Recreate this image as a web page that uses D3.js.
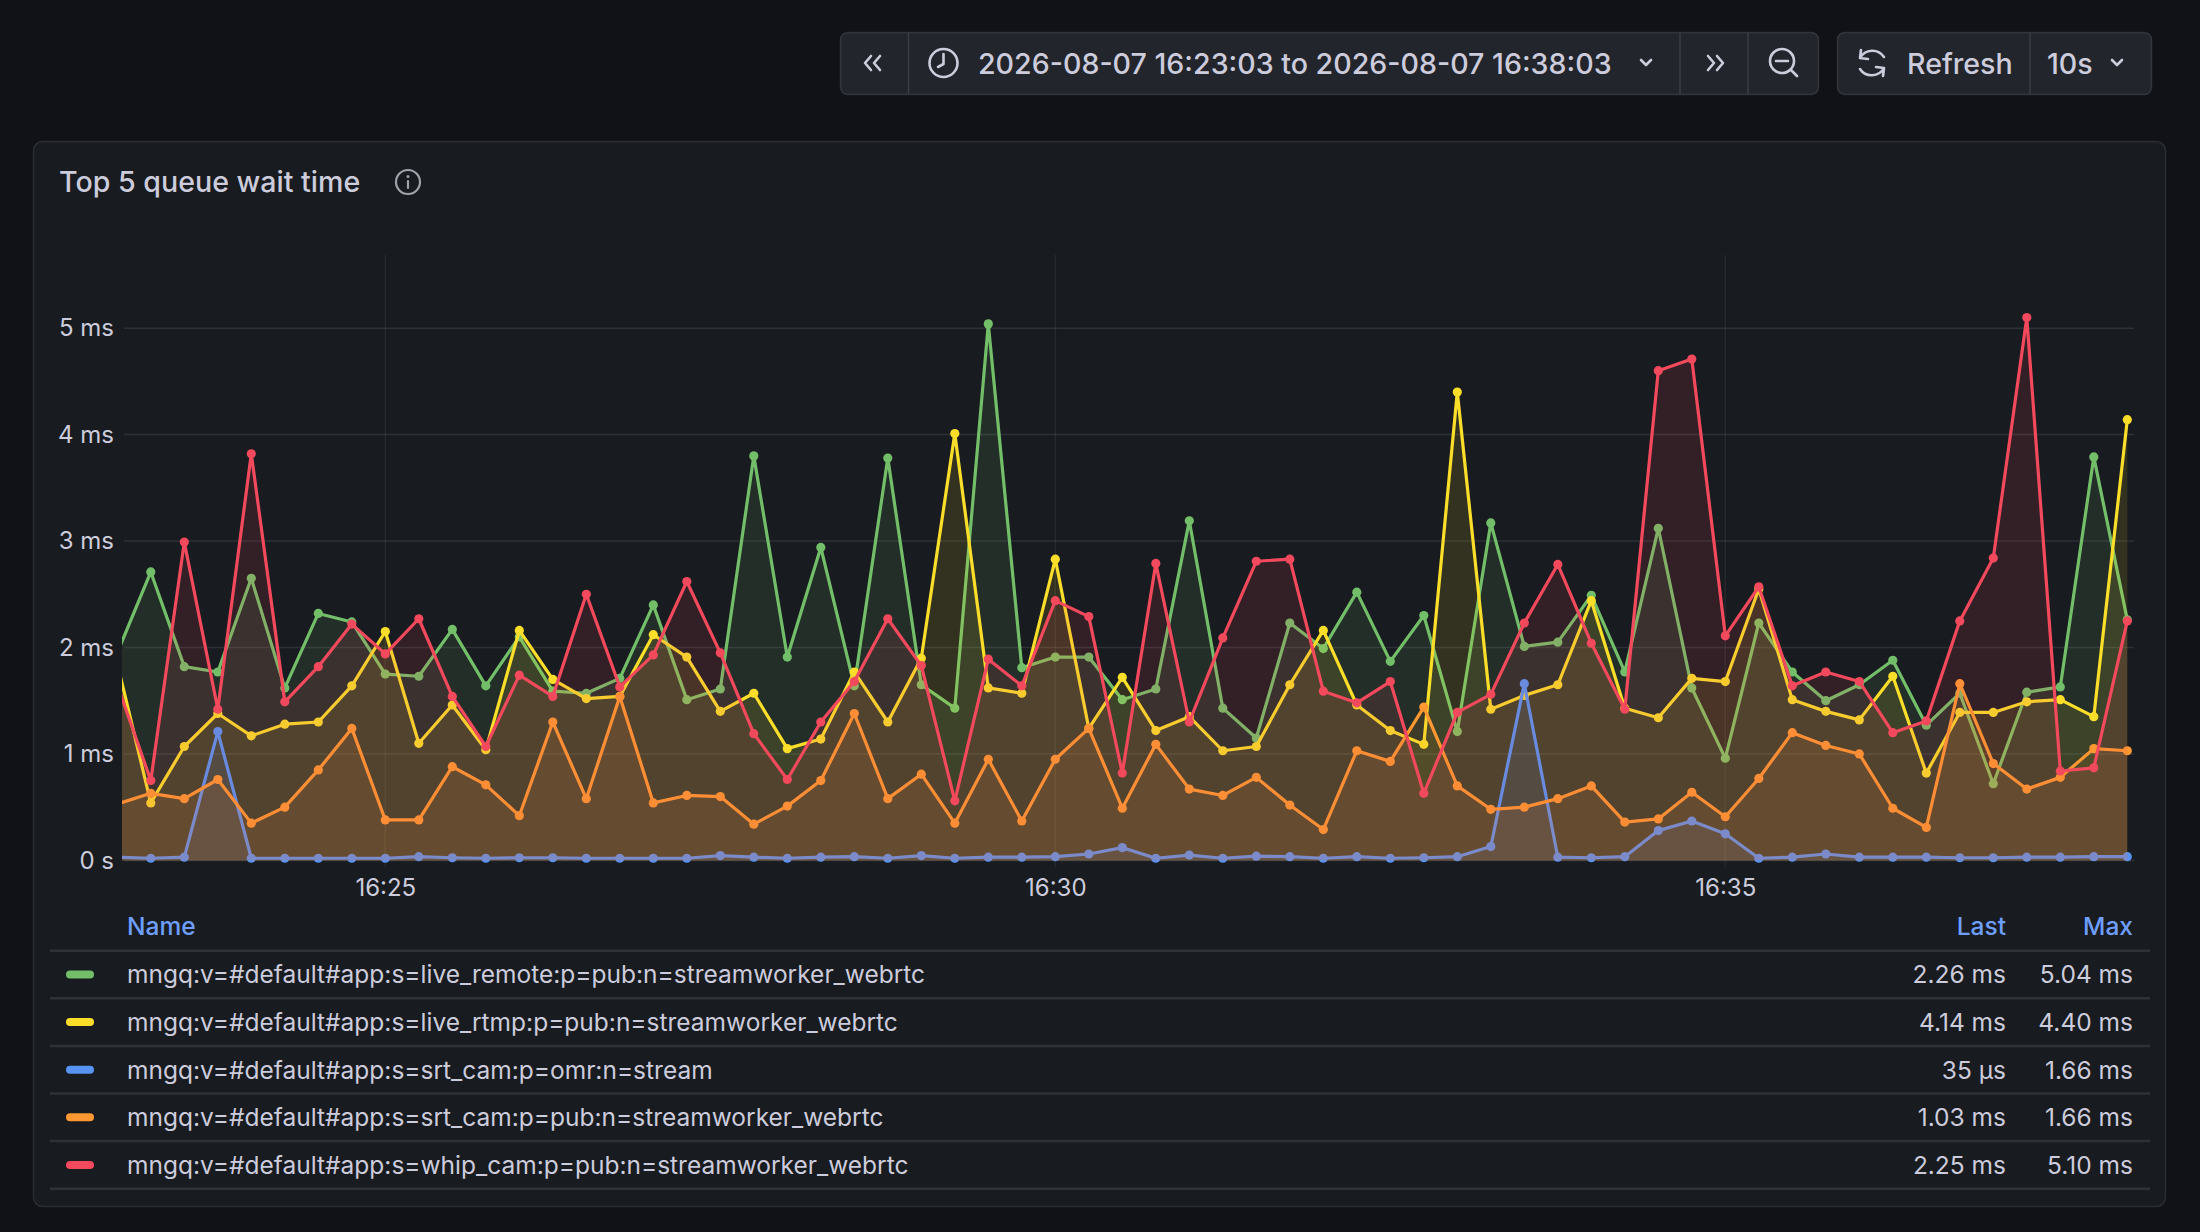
<!DOCTYPE html>
<html>
<head>
<meta charset="utf-8">
<script src="https://cdn.jsdelivr.net/npm/d3@7"></script>
<style>
  html, body { margin: 0; padding: 0; background: #111217; }
  svg { display: block; font-family: Inter, "Noto Sans", sans-serif; }
</style>
</head>
<body>
<div id="chart"></div>
<script>
var width = 2200;
var height = 1232;

// sample times, one every 15 s
var times = [
  '16:23:00', '16:23:15', '16:23:30', '16:23:45', '16:24:00', '16:24:15', '16:24:30', '16:24:45',
  '16:25:00', '16:25:15', '16:25:30', '16:25:45', '16:26:00', '16:26:15', '16:26:30', '16:26:45',
  '16:27:00', '16:27:15', '16:27:30', '16:27:45', '16:28:00', '16:28:15', '16:28:30', '16:28:45',
  '16:29:00', '16:29:15', '16:29:30', '16:29:45', '16:30:00', '16:30:15', '16:30:30', '16:30:45',
  '16:31:00', '16:31:15', '16:31:30', '16:31:45', '16:32:00', '16:32:15', '16:32:30', '16:32:45',
  '16:33:00', '16:33:15', '16:33:30', '16:33:45', '16:34:00', '16:34:15', '16:34:30', '16:34:45',
  '16:35:00', '16:35:15', '16:35:30', '16:35:45', '16:36:00', '16:36:15', '16:36:30', '16:36:45',
  '16:37:00', '16:37:15', '16:37:30', '16:37:45', '16:38:00'
];

// values in ms
var liveRemote = [
  1.95, 2.71, 1.82, 1.77, 2.65, 1.62, 2.32, 2.24, 1.75, 1.73, 2.17, 1.64, 2.10, 1.59, 1.57, 1.71,
  2.40, 1.51, 1.61, 3.80, 1.91, 2.94, 1.64, 3.78, 1.65, 1.43, 5.04, 1.81, 1.91, 1.91, 1.51, 1.61,
  3.19, 1.43, 1.15, 2.23, 1.99, 2.52, 1.87, 2.30, 1.21, 3.17, 2.01, 2.05, 2.49, 1.77, 3.12, 1.62,
  0.96, 2.23, 1.77, 1.50, 1.65, 1.88, 1.27, 1.57, 0.72, 1.58, 1.63, 3.79, 2.26
];
var liveRtmp = [
  1.85, 0.54, 1.07, 1.38, 1.17, 1.28, 1.30, 1.64, 2.15, 1.10, 1.46, 1.04, 2.16, 1.70, 1.52, 1.54,
  2.12, 1.91, 1.40, 1.57, 1.05, 1.14, 1.77, 1.30, 1.90, 4.01, 1.62, 1.57, 2.83, 1.24, 1.72, 1.22,
  1.35, 1.03, 1.07, 1.65, 2.16, 1.46, 1.22, 1.09, 4.40, 1.42, 1.55, 1.65, 2.44, 1.43, 1.34, 1.71,
  1.68, 2.55, 1.51, 1.40, 1.32, 1.73, 0.82, 1.39, 1.39, 1.49, 1.51, 1.35, 4.14
];
var srtCamOmr = [
  0.03, 0.02, 0.03, 1.21, 0.02, 0.02, 0.02, 0.02, 0.02, 0.035, 0.025, 0.02, 0.025, 0.025, 0.02, 0.02,
  0.02, 0.02, 0.045, 0.03, 0.02, 0.03, 0.035, 0.02, 0.045, 0.02, 0.03, 0.03, 0.035, 0.06, 0.12, 0.02,
  0.05, 0.02, 0.04, 0.035, 0.02, 0.035, 0.02, 0.025, 0.035, 0.13, 1.66, 0.03, 0.025, 0.035, 0.28, 0.37,
  0.25, 0.02, 0.03, 0.06, 0.03, 0.03, 0.03, 0.025, 0.025, 0.03, 0.03, 0.035, 0.035
];
var srtCamPub = [
  0.53, 0.63, 0.58, 0.76, 0.35, 0.50, 0.85, 1.24, 0.38, 0.38, 0.88, 0.71, 0.42, 1.30, 0.58, 1.54,
  0.54, 0.61, 0.60, 0.34, 0.51, 0.75, 1.38, 0.58, 0.81, 0.35, 0.95, 0.37, 0.95, 1.24, 0.49, 1.09,
  0.67, 0.61, 0.78, 0.52, 0.29, 1.03, 0.93, 1.44, 0.70, 0.48, 0.50, 0.58, 0.70, 0.36, 0.39, 0.64,
  0.41, 0.77, 1.20, 1.08, 1.00, 0.49, 0.31, 1.66, 0.91, 0.67, 0.78, 1.05, 1.03
];
var whipCam = [
  1.65, 0.75, 2.99, 1.42, 3.82, 1.49, 1.82, 2.22, 1.94, 2.27, 1.54, 1.07, 1.74, 1.54, 2.50, 1.63,
  1.93, 2.62, 1.95, 1.19, 0.76, 1.30, 1.68, 2.27, 1.83, 0.56, 1.89, 1.64, 2.44, 2.29, 0.82, 2.79,
  1.30, 2.09, 2.81, 2.83, 1.59, 1.48, 1.68, 0.63, 1.39, 1.56, 2.23, 2.78, 2.04, 1.42, 4.60, 4.71,
  2.11, 2.57, 1.64, 1.77, 1.68, 1.20, 1.31, 2.25, 2.84, 5.10, 0.84, 0.87, 2.25
];

var seriesNames = [
  'mngq:v=#default#app:s=live_remote:p=pub:n=streamworker_webrtc',
  'mngq:v=#default#app:s=live_rtmp:p=pub:n=streamworker_webrtc',
  'mngq:v=#default#app:s=srt_cam:p=omr:n=stream',
  'mngq:v=#default#app:s=srt_cam:p=pub:n=streamworker_webrtc',
  'mngq:v=#default#app:s=whip_cam:p=pub:n=streamworker_webrtc'
];
var seriesValues = [liveRemote, liveRtmp, srtCamOmr, srtCamPub, whipCam];
var seriesColors = ['#73BF69', '#FADE2A', '#5794F2', '#FF9830', '#F2495C'];

var yTicks = [0, 1, 2, 3, 4, 5];
var yTickLabels = ['0 s', '1 ms', '2 ms', '3 ms', '4 ms', '5 ms'];
var xTicks = ['16:25:00', '16:30:00', '16:35:00'];
var xTickLabels = ['16:25', '16:30', '16:35'];
var rangeFrom = '16:23:03';
var rangeTo = '16:38:03';
var timeRangeText = '2026-08-07 16:23:03 to 2026-08-07 16:38:03';
var panelTitle = 'Top 5 queue wait time';

var textColor = '#ccccdc';
var borderColor = 'rgba(204,204,220,0.13)';

var parse = d3.timeParse('%H:%M:%S');

var plot = { left: 124, right: 2134, top: 255, bottom: 860.4 };

var x = d3.scaleTime()
  .domain([parse(rangeFrom), parse(rangeTo)])
  .range([plot.left, plot.right]);

var y = d3.scaleLinear()
  .domain([0, 5.687])
  .range([plot.bottom, plot.top]);

var svg = d3.select('#chart')
  .append('svg')
  .attr('width', width)
  .attr('height', height);

svg.append('rect')
  .attr('width', width)
  .attr('height', height)
  .attr('fill', '#111217');

// ---- toolbar ----
var bar = svg.append('g');

function buttonGroup(x0, x1, dividers) {
  bar.append('rect')
    .attr('x', x0 + 0.5).attr('y', 32.5)
    .attr('width', x1 - x0).attr('height', 62)
    .attr('rx', 7)
    .attr('fill', '#22252b')
    .attr('stroke', 'rgba(204,204,220,0.15)')
    .attr('stroke-width', 1.5);
  dividers.forEach(function(d) {
    bar.append('line')
      .attr('x1', d).attr('x2', d)
      .attr('y1', 33).attr('y2', 94)
      .attr('stroke', 'rgba(204,204,220,0.15)')
      .attr('stroke-width', 1.5);
  });
}

buttonGroup(840, 1818, [908.5, 1680, 1748]);
buttonGroup(1837, 2151, [2030]);

var iconStroke = function(sel) {
  return sel.attr('fill', 'none')
    .attr('stroke', textColor)
    .attr('stroke-width', 2.6)
    .attr('stroke-linecap', 'round')
    .attr('stroke-linejoin', 'round');
};

// << and >>
iconStroke(bar.append('path')
  .attr('d', 'M871,56 L865,63 L871,70 M880,56 L874,63 L880,70'));
iconStroke(bar.append('path')
  .attr('d', 'M1708,56 L1714,63 L1708,70 M1717,56 L1723,63 L1717,70'));

// clock
iconStroke(bar.append('circle').attr('cx', 943.5).attr('cy', 63).attr('r', 14));
iconStroke(bar.append('path').attr('d', 'M943.5,54 L943.5,64 L938,67'));

bar.append('text')
  .attr('x', 978)
  .attr('y', 64)
  .attr('dy', '0.36em')
  .attr('fill', textColor)
  .attr('font-size', 28.6)
  .attr('font-weight', 500)
  .text(timeRangeText);

// chevrons down
iconStroke(bar.append('path').attr('d', 'M1641,60 L1646,65 L1651,60'));
iconStroke(bar.append('path').attr('d', 'M2112,60 L2117,65 L2122,60'));

// zoom out
iconStroke(bar.append('circle').attr('cx', 1782).attr('cy', 61).attr('r', 12));
iconStroke(bar.append('path').attr('d', 'M1776,61 L1788,61 M1791,70 L1797,76'));

// refresh
iconStroke(bar.append('path')
  .attr('d', 'M1884,57 A14,14 0 0 0 1860,58 M1860,69 A14,14 0 0 0 1884,68 M1861,50 L1860,58 L1868,59 M1883,76 L1884,68 L1876,67'));

bar.append('text')
  .attr('x', 1907)
  .attr('y', 64)
  .attr('dy', '0.36em')
  .attr('fill', textColor)
  .attr('font-size', 28.6)
  .attr('font-weight', 500)
  .text('Refresh');

bar.append('text')
  .attr('x', 2047)
  .attr('y', 64)
  .attr('dy', '0.36em')
  .attr('fill', textColor)
  .attr('font-size', 28.6)
  .attr('font-weight', 500)
  .text('10s');

// ---- panel ----
svg.append('rect')
  .attr('x', 33.5).attr('y', 141.5)
  .attr('width', 2132).attr('height', 1065)
  .attr('rx', 9)
  .attr('fill', '#181b1f')
  .attr('stroke', borderColor)
  .attr('stroke-width', 1.5);

svg.append('text')
  .attr('x', 59)
  .attr('y', 182)
  .attr('dy', '0.36em')
  .attr('fill', textColor)
  .attr('font-size', 28.6)
  .attr('font-weight', 500)
  .text(panelTitle);

var info = svg.append('g').attr('transform', 'translate(408,182)');
info.append('circle').attr('r', 12)
  .attr('fill', 'none').attr('stroke', '#a0a2ab').attr('stroke-width', 2.2);
info.append('line').attr('x1', 0).attr('x2', 0).attr('y1', -1).attr('y2', 6)
  .attr('stroke', '#a0a2ab').attr('stroke-width', 2.2).attr('stroke-linecap', 'round');
info.append('circle').attr('cy', -5.5).attr('r', 1.5).attr('fill', '#a0a2ab');

// ---- grid ----
var grid = svg.append('g');
grid.selectAll('line.h')
  .data(yTicks)
  .enter().append('line')
  .attr('x1', plot.left).attr('x2', plot.right)
  .attr('y1', function(d) { return y(d); })
  .attr('y2', function(d) { return y(d); })
  .attr('stroke', 'rgba(204,204,220,0.12)')
  .attr('stroke-width', 1.5);

grid.selectAll('line.v')
  .data(xTicks)
  .enter().append('line')
  .attr('x1', function(d) { return x(parse(d)); })
  .attr('x2', function(d) { return x(parse(d)); })
  .attr('y1', plot.top).attr('y2', 867)
  .attr('stroke', 'rgba(204,204,220,0.08)')
  .attr('stroke-width', 1.5);

var yAxis = d3.axisLeft(y)
  .tickValues(yTicks)
  .tickSize(0)
  .tickPadding(10)
  .tickFormat(function(d, i) { return yTickLabels[i]; });

svg.append('g')
  .attr('transform', 'translate(' + plot.left + ',0)')
  .call(yAxis)
  .call(function(g) {
    g.select('.domain').remove();
    g.selectAll('text')
      .attr('fill', textColor)
      .attr('font-size', 24)
      .attr('font-family', 'Inter, sans-serif');
  });

var xAxis = d3.axisBottom(x)
  .tickValues(xTicks.map(parse))
  .tickSize(0)
  .tickPadding(19)
  .tickFormat(function(d, i) { return xTickLabels[i]; });

svg.append('g')
  .attr('transform', 'translate(0,' + plot.bottom + ')')
  .call(xAxis)
  .call(function(g) {
    g.select('.domain').remove();
    g.selectAll('text')
      .attr('fill', textColor)
      .attr('font-size', 24)
      .attr('font-family', 'Inter, sans-serif');
  });

// ---- series ----
svg.append('clipPath')
  .attr('id', 'plotClip')
  .append('rect')
  .attr('x', plot.left - 2).attr('y', plot.top - 20)
  .attr('width', plot.right - plot.left + 8)
  .attr('height', plot.bottom - plot.top + 30);

var plotArea = svg.append('g').attr('clip-path', 'url(#plotClip)');

var area = d3.area()
  .x(function(d, i) { return x(parse(times[i])); })
  .y0(y(0))
  .y1(function(d) { return y(d); });

var line = d3.line()
  .x(function(d, i) { return x(parse(times[i])); })
  .y(function(d) { return y(d); });

seriesValues.forEach(function(values, s) {
  var g = plotArea.append('g');
  g.append('path')
    .attr('d', area(values))
    .attr('fill', seriesColors[s])
    .attr('fill-opacity', 0.12);
  g.append('path')
    .attr('d', line(values))
    .attr('fill', 'none')
    .attr('stroke', seriesColors[s])
    .attr('stroke-width', 3.2)
    .attr('stroke-linejoin', 'round');
  g.selectAll('circle')
    .data(values)
    .enter().append('circle')
    .attr('cx', function(d, i) { return x(parse(times[i])); })
    .attr('cy', function(d) { return y(d); })
    .attr('r', 4.6)
    .attr('fill', seriesColors[s]);
});

// ---- legend table ----
function fmt(v) {
  if (v < 1) {
    return Math.round(v * 1000) + ' \u00b5s';
  }
  return v.toFixed(2) + ' ms';
}

var legend = svg.append('g');
var headerY = 926;
var rowY0 = 974.5;
var rowH = 47.6;
var headerColor = '#6E9FFF';
var legendFont = 24.5;

legend.append('text').attr('x', 127).attr('y', headerY).attr('dy', '0.36em')
  .attr('fill', headerColor).attr('font-size', legendFont).attr('font-weight', 500).text('Name');
legend.append('text').attr('x', 2006).attr('y', headerY).attr('dy', '0.36em')
  .attr('text-anchor', 'end')
  .attr('fill', headerColor).attr('font-size', legendFont).attr('font-weight', 500).text('Last');
legend.append('text').attr('x', 2133).attr('y', headerY).attr('dy', '0.36em')
  .attr('text-anchor', 'end')
  .attr('fill', headerColor).attr('font-size', legendFont).attr('font-weight', 500).text('Max');

legend.append('line')
  .attr('x1', 50).attr('x2', 2150)
  .attr('y1', rowY0 - rowH / 2).attr('y2', rowY0 - rowH / 2)
  .attr('stroke', borderColor).attr('stroke-width', 2.5);

var rows = legend.selectAll('g.row')
  .data(seriesNames)
  .enter().append('g')
  .attr('transform', function(d, i) { return 'translate(0,' + (rowY0 + i * rowH) + ')'; });

rows.append('rect')
  .attr('x', 66).attr('y', -4)
  .attr('width', 28).attr('height', 8)
  .attr('rx', 4)
  .attr('fill', function(d, i) { return seriesColors[i]; });

rows.append('text')
  .attr('x', 127).attr('dy', '0.36em')
  .attr('fill', textColor).attr('font-size', legendFont)
  .text(function(d) { return d; });

rows.append('text')
  .attr('x', 2006).attr('dy', '0.36em')
  .attr('text-anchor', 'end')
  .attr('fill', textColor).attr('font-size', legendFont)
  .text(function(d, i) { var v = seriesValues[i]; return fmt(v[v.length - 1]); });

rows.append('text')
  .attr('x', 2133).attr('dy', '0.36em')
  .attr('text-anchor', 'end')
  .attr('fill', textColor).attr('font-size', legendFont)
  .text(function(d, i) { return fmt(d3.max(seriesValues[i])); });

rows.append('line')
  .attr('x1', 50).attr('x2', 2150)
  .attr('y1', rowH / 2).attr('y2', rowH / 2)
  .attr('stroke', borderColor).attr('stroke-width', 2.5);
</script>
</body>
</html>
